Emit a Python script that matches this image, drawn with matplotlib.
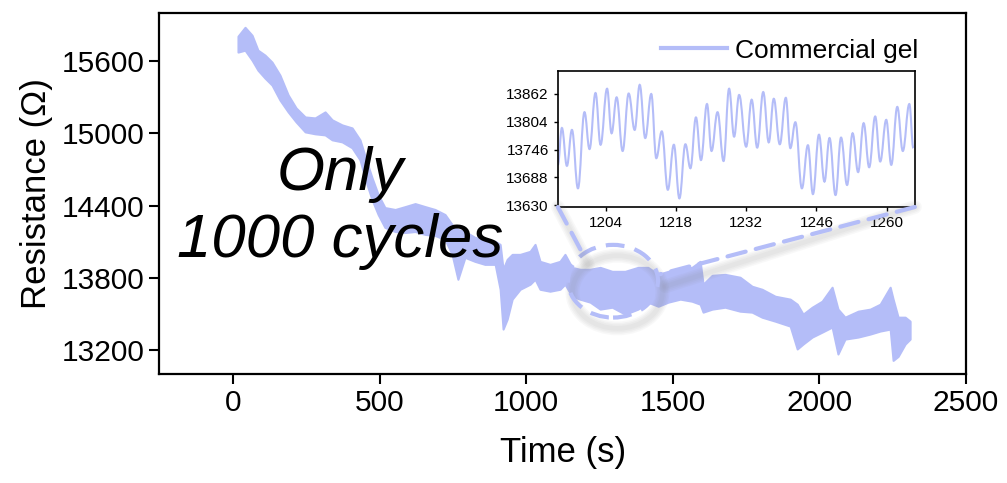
import matplotlib
matplotlib.use("Agg")
import matplotlib.pyplot as plt
from matplotlib.lines import Line2D
from matplotlib.patches import Ellipse, ConnectionPatch, PathPatch
from matplotlib.path import Path

plt.rcParams['font.family'] = ['Liberation Sans', 'DejaVu Sans']

# 本体のトレンド（帯の上端・下端）
time_s = [17, 41, 65, 85, 109, 133, 160, 188, 215, 246, 280, 314, 338, 372, 406,
          433, 454, 474, 495, 518, 553, 587, 621, 655, 689, 723, 747, 767, 791,
          825, 859, 894, 911, 921, 935, 952, 979, 1013, 1030, 1047, 1081, 1115,
          1132, 1156, 1183, 1218, 1252, 1293, 1337, 1381, 1415, 1450, 1484, 1525,
          1565, 1593, 1603, 1634, 1678, 1729, 1770, 1804, 1849, 1900, 1924, 1944,
          1975, 2009, 2043, 2063, 2087, 2132, 2173, 2207, 2241, 2251, 2268, 2292,
          2309]
res_hi = [15807, 15881, 15815, 15691, 15650, 15592, 15484, 15319, 15211, 15136,
          15128, 15178, 15112, 15070, 15045, 14946, 14780, 14631, 14491, 14383,
          14367, 14391, 14416, 14391, 14367, 14325, 14242, 14201, 14184, 14135,
          14118, 14102, 14077, 13870, 13953, 13994, 13994, 14019, 14077, 13936,
          13911, 13936, 13994, 13886, 13870, 13870, 13886, 13853, 13853, 13886,
          13886, 13828, 13853, 13870, 13886, 13936, 13746, 13820, 13828, 13804,
          13729, 13704, 13646, 13622, 13580, 13497, 13555, 13605, 13721, 13539,
          13472, 13522, 13539, 13580, 13721, 13622, 13472, 13472, 13439]
res_lo = [15675, 15691, 15608, 15525, 15459, 15401, 15277, 15178, 15095, 15012,
          14996, 14987, 14946, 14929, 14880, 14780, 14598, 14449, 14325, 14218,
          14184, 14176, 14184, 14160, 14151, 14118, 13994, 13787, 13969, 13936,
          13911, 13911, 13704, 13373, 13456, 13622, 13704, 13746, 13787, 13704,
          13688, 13704, 13746, 13646, 13622, 13597, 13539, 13555, 13497, 13539,
          13597, 13563, 13597, 13622, 13605, 13580, 13514, 13539, 13555, 13522,
          13514, 13472, 13439, 13398, 13208, 13249, 13307, 13348, 13390, 13166,
          13290, 13307, 13332, 13357, 13373, 13113, 13146, 13249, 13290]

# 拡大部分（ピーク・谷）
inset_t = [1194.5, 1195.3, 1196.3, 1197.3, 1198.5, 1199.8, 1200.8, 1202.0, 1203.0,
           1204.3, 1205.2, 1206.2, 1207.4, 1208.6, 1209.8, 1210.8, 1211.9, 1213.1,
           1214.1, 1215.2, 1216.4, 1217.6, 1218.7, 1219.9, 1220.9, 1222.0, 1223.0,
           1224.2, 1225.1, 1226.3, 1227.5, 1228.6, 1229.6, 1230.6, 1232.0, 1233.1,
           1234.2, 1235.4, 1236.5, 1237.5, 1238.7, 1239.9, 1240.8, 1241.8, 1243.1,
           1244.3, 1245.3, 1246.5, 1247.6, 1248.6, 1249.8, 1250.9, 1252.1, 1253.2,
           1254.3, 1255.4, 1256.5, 1257.7, 1258.7, 1259.9, 1260.9, 1262.1, 1263.2,
           1264.5, 1265.3]
inset_r = [13714, 13791, 13712, 13787, 13665, 13824, 13747, 13864, 13756, 13873,
           13780, 13855, 13743, 13863, 13787, 13881, 13770, 13862, 13728, 13784,
           13662, 13756, 13644, 13757, 13707, 13813, 13724, 13841, 13743, 13824,
           13722, 13873, 13773, 13860, 13752, 13850, 13750, 13866, 13761, 13852,
           13757, 13854, 13749, 13803, 13665, 13755, 13653, 13777, 13679, 13770,
           13651, 13771, 13672, 13780, 13699, 13801, 13709, 13815, 13721, 13808,
           13714, 13835, 13743, 13841, 13749]

color = '#b4bdf8'

fig = plt.figure(figsize=(10.07, 4.83), dpi=100)
ax = fig.add_axes([0.158, 0.2257, 0.8014, 0.7474])
ax.fill_between(time_s, res_lo, res_hi, color=color, lw=1.5, edgecolor=color)

ax.set_xlim(-252, 2500)
ax.set_ylim(13000, 16000)
ax.set_xticks([0, 500, 1000, 1500, 2000, 2500])
ax.set_yticks([13200, 13800, 14400, 15000, 15600])
ax.tick_params(labelsize=21.5, length=7, width=1.5, direction='out')
for sp in ax.spines.values():
    sp.set_linewidth(1.6)
ax.set_xlabel('Time (s)', fontsize=25, labelpad=14)
ax.set_ylabel('Resistance (Ω)', fontsize=25, labelpad=6)

ax.legend(handles=[Line2D([], [], color=color, lw=3, label='Commercial gel')],
          loc='upper right', bbox_to_anchor=(0.97, 0.995), frameon=False,
          fontsize=19, handlelength=2.5, handletextpad=0.3)

ax.text(365, 14380, 'Only\n1000 cycles', fontsize=44.5, style='italic',
        ha='center', va='center', linespacing=1.21)

# 拡大部の楕円と影
ecx, ecy, ew, eh = 1296, 13771, 307, 604
for i in range(4):
    ax.add_patch(Ellipse((ecx + 15, ecy - 90), ew, eh, fill=False,
                         ec='gray', lw=10 - 2.2 * i, alpha=0.05, zorder=3))
ax.add_patch(Ellipse((ecx, ecy), ew, eh, fill=False, ec=color, lw=3,
                     ls=(0, (4.5, 2.5)), zorder=4))

# 差し込み図（ピーク間をなめらかにつなぐ）
axin = fig.add_axes([0.554, 0.5714, 0.3545, 0.2816])
verts = [(inset_t[0], inset_r[0])]
codes = [Path.MOVETO]
for i in range(1, len(inset_t)):
    dt = inset_t[i] - inset_t[i - 1]
    verts += [(inset_t[i - 1] + 0.4 * dt, inset_r[i - 1]),
              (inset_t[i] - 0.4 * dt, inset_r[i]),
              (inset_t[i], inset_r[i])]
    codes += [Path.CURVE4] * 3
axin.add_patch(PathPatch(Path(verts, codes), fill=False, ec=color, lw=1.5))
axin.set_xlim(1194.5, 1265.6)
axin.set_ylim(13626, 13910)
axin.set_xticks([1204, 1218, 1232, 1246, 1260])
axin.set_yticks([13630, 13688, 13746, 13804, 13862])
axin.tick_params(labelsize=11, length=3, width=1, direction='out')
for sp in axin.spines.values():
    sp.set_linewidth(1.2)

# 連結の破線と影
for pa, pb in [((0, 0), (1190, 14011)), ((1, 0), (1456, 13829))]:
    for i in range(4):
        shadow = ConnectionPatch(xyA=pa, coordsA=axin.transAxes,
                                 xyB=(pb[0] + 20, pb[1] - 100), coordsB=ax.transData,
                                 color='gray', lw=10 - 2.2 * i, alpha=0.05, zorder=3)
        fig.add_artist(shadow)
    con = ConnectionPatch(xyA=pa, coordsA=axin.transAxes, xyB=pb, coordsB=ax.transData,
                          color=color, lw=3, ls=(0, (4.5, 2.5)), zorder=4)
    fig.add_artist(con)

plt.savefig('out.png', dpi=100)
